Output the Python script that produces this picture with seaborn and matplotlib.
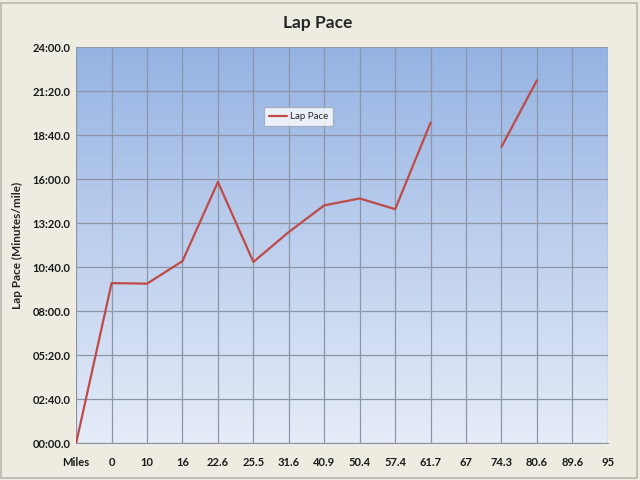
import numpy as np
import pandas as pd
import seaborn as sns
import matplotlib.pyplot as plt
from matplotlib.lines import Line2D
from matplotlib.patches import Rectangle
from matplotlib.ticker import FuncFormatter, MultipleLocator

# distance markers (category axis) and lap pace in seconds per mile
miles = ["Miles", "0", "10", "16", "22.6", "25.5", "31.6", "40.9", "50.4",
         "57.4", "61.7", "67", "74.3", "80.6", "89.6", "95"]
pace_sec = [0, 582, 580, 662, 950, 659, 768, 865, 890,
            851, 1166, None, 1078, 1320, None, None]


def mmss(v, _pos=None):
    m = int(v // 60)
    s = v - m * 60
    return f"{m:02d}:{s:04.1f}"


def main():
    sns.set_style("white")
    plt.rcParams["font.family"] = ["Lato", "DejaVu Sans"]

    df = pd.DataFrame({"pos": np.arange(len(miles)), "pace": pace_sec})
    df["pace"] = df["pace"].astype(float)
    # break the line where data is missing
    df["seg"] = df["pace"].isna().cumsum()
    df = df.dropna()

    fig = plt.figure(figsize=(6.4, 4.8), dpi=100, facecolor="#EEECE1")
    ax = fig.add_axes([0.119, 0.077, 0.8307, 0.8244])

    grad = np.linspace(0, 1, 256).reshape(-1, 1)
    top = np.array([0x95, 0xB3, 0xE3]) / 255
    bot = np.array([0xE6, 0xEC, 0xF8]) / 255
    img = top + (bot - top) * grad[:, :, None]
    ax.imshow(img, extent=[0, 1, 0, 1], transform=ax.transAxes,
              aspect="auto", zorder=0)

    sns.lineplot(data=df, x="pos", y="pace", units="seg", estimator=None,
                 color="#BE4B48", linewidth=1.6, ax=ax, zorder=3)

    ax.set_xlim(0, len(miles) - 1)
    ax.set_ylim(0, 1440)
    ax.yaxis.set_major_locator(MultipleLocator(160))
    ax.yaxis.set_major_formatter(FuncFormatter(mmss))
    ax.set_xticks(np.arange(len(miles)))
    ax.set_xticklabels(miles)
    ax.grid(True, color="#8C96A8", linewidth=0.9, zorder=1)
    ax.set_axisbelow(True)
    for s in ax.spines.values():
        s.set_visible(False)
    ax.spines["bottom"].set_visible(True)
    ax.spines["bottom"].set_color("#8C96A8")
    ax.tick_params(axis="x", length=4, color="#8C96A8", pad=6)
    ax.tick_params(axis="y", length=0, pad=4)
    for lab in ax.get_xticklabels() + ax.get_yticklabels():
        lab.set_fontsize(8)
        lab.set_fontweight("bold")
        lab.set_color("#1a1a1a")

    ax.set_xlabel("")
    ax.set_ylabel("Lap Pace (Minutes/mile)", fontsize=8.5, fontweight="bold",
                  labelpad=7)
    fig.text(0.496, 0.953, "Lap Pace", ha="center", va="center",
             fontsize=12.5, fontweight="bold")

    handle = Line2D([], [], color="#BE4B48", linewidth=1.6)
    leg = ax.legend([handle], ["Lap Pace"], loc="upper left",
                    bbox_to_anchor=(0.354, 0.849), borderaxespad=0,
                    fontsize=7, frameon=True, fancybox=False,
                    handlelength=1.8, borderpad=0.5, handletextpad=0.3)
    leg.get_frame().set_facecolor("white")
    leg.get_frame().set_edgecolor("#A0A8B8")

    fig.patches.append(Rectangle((0.002, 0.004), 0.993, 0.99,
                                 transform=fig.transFigure, fill=False,
                                 edgecolor="#B8B8B0", linewidth=1.2))

    fig.savefig("out.png", dpi=100, facecolor=fig.get_facecolor())


if __name__ == "__main__":
    main()
